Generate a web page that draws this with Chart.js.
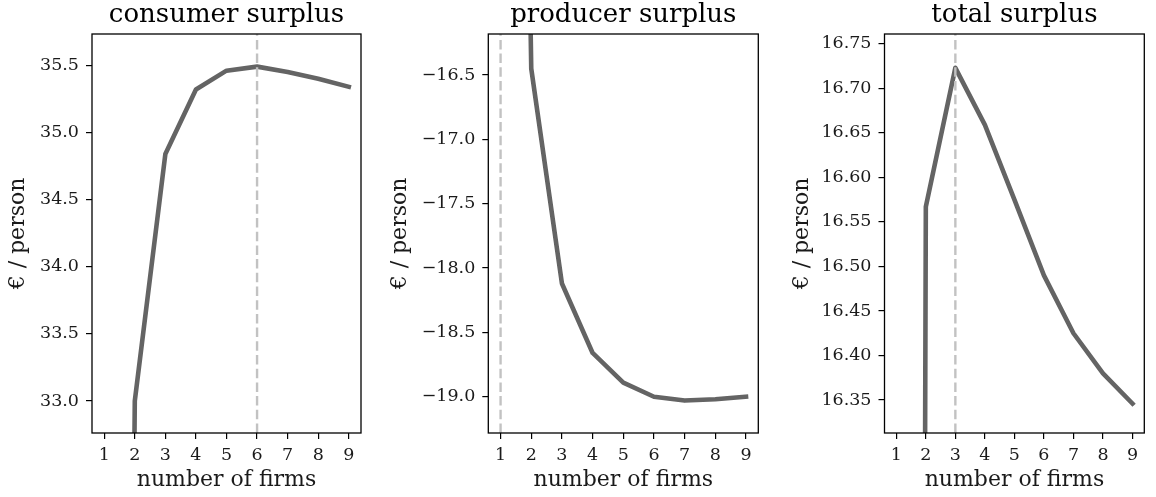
<!DOCTYPE html>
<html>
<head>
<meta charset="utf-8">
<script src="https://cdn.jsdelivr.net/npm/chart.js@4/dist/chart.umd.min.js"></script>
<style>
  html, body { margin: 0; padding: 0; background: #fff; }
  body { width: 1156px; height: 497px; position: relative; overflow: hidden; }
  .panel { position: absolute; top: 0; height: 497px; }
</style>
</head>
<body>
<div class="panel" style="left:0px;width:381px"><canvas id="chartConsumer"></canvas></div>
<div class="panel" style="left:382px;width:400px"><canvas id="chartProducer"></canvas></div>
<div class="panel" style="left:784px;width:372px"><canvas id="chartTotal"></canvas></div>
<script>
// numero de empresas no mercado
const firms = [1, 2, 3, 4, 5, 6, 7, 8, 9];
const xTicks = [1, 2, 3, 4, 5, 6, 7, 8, 9];

// excedentes (euro por pessoa)
const consumerSurplus = [8.0, 33.00, 34.84, 35.32, 35.46, 35.49, 35.45, 35.40, 35.34];
const producerSurplus = [-2.0, -16.45, -18.12, -18.66, -18.89, -19.00, -19.03, -19.02, -19.00];
const totalSurplus = [6.0, 16.567, 16.723, 16.659, 16.575, 16.490, 16.425, 16.380, 16.346];

// limites dos eixos y
const consumerRange = [32.762, 35.733];
const producerRange = [-19.282, -16.181];
const totalRange = [16.313, 16.761];

const serif = 'DejaVu Serif';
const lineColor = '#646464';
const dashColor = '#c2c2c2';

// moldura completa do grafico (estilo matplotlib)
const framePlugin = {
    id: 'frame',
    afterDatasetsDraw(chart) {
        const a = chart.chartArea;
        const ctx = chart.ctx;
        ctx.save();
        ctx.strokeStyle = '#000';
        ctx.lineWidth = 1.3;
        ctx.strokeRect(a.left, a.top, a.right - a.left, a.bottom - a.top);
        ctx.restore();
    }
};

function argmaxX(values) {
    let best = 0;
    values.forEach((v, i) => { if (v > values[best]) best = i; });
    return firms[best];
}

function fmt(decimals) {
    return v => v.toFixed(decimals).replace('-', '\u2212');
}

function makeChart(id, title, values, range, step, decimals, yWidth, padRight) {
    const best = argmaxX(values);
    new Chart(document.getElementById(id), {
        type: 'line',
        data: {
            datasets: [{
                data: firms.map((f, i) => ({ x: f, y: values[i] })),
                borderColor: lineColor,
                borderWidth: 4.6,
                borderJoinStyle: 'round',
                borderCapStyle: 'square',
                pointRadius: 0,
                tension: 0,
                clip: 0,
                order: 2
            }, {
                // linha tracejada no maximo
                data: [{ x: best, y: range[0] }, { x: best, y: range[1] }],
                borderColor: dashColor,
                borderWidth: 2.4,
                borderDash: [9.5, 4.2],
                pointRadius: 0,
                clip: 0,
                order: 1
            }]
        },
        options: {
            responsive: true,
            maintainAspectRatio: false,
            animation: false,
            layout: { padding: { left: 0, right: padRight, top: 0, bottom: 0 } },
            plugins: {
                legend: { display: false },
                tooltip: { enabled: false },
                title: {
                    display: true,
                    text: title,
                    fullSize: false,
                    color: '#000',
                    font: { family: serif, size: 26, weight: 'normal', lineHeight: 1.15 },
                    padding: { top: 0, bottom: 4.1 }
                }
            },
            scales: {
                x: {
                    type: 'linear',
                    min: 0.6,
                    max: 9.4,
                    afterFit: s => { s.height = 64; },
                    afterBuildTicks: s => { s.ticks = xTicks.map(v => ({ value: v })); },
                    grid: { drawOnChartArea: false, drawTicks: true, tickLength: 6, color: '#000', lineWidth: 1.2 },
                    border: { display: false },
                    ticks: {
                        color: '#1a1a1a',
                        padding: 5.5,
                        maxRotation: 0,
                        font: { family: serif, size: 17.5 },
                        callback: v => String(v)
                    },
                    title: {
                        display: true,
                        text: 'number of firms',
                        color: '#1a1a1a',
                        font: { family: serif, size: 22 },
                        padding: { top: 0, bottom: 3.8 }
                    }
                },
                y: {
                    type: 'linear',
                    min: range[0],
                    max: range[1],
                    afterFit: s => { s.width = yWidth; },
                    grid: { drawOnChartArea: false, drawTicks: true, tickLength: 6, color: '#000', lineWidth: 1.2 },
                    border: { display: false },
                    ticks: {
                        stepSize: step,
                        includeBounds: false,
                        color: '#1a1a1a',
                        padding: 7,
                        font: { family: serif, size: 17.5 },
                        callback: fmt(decimals)
                    },
                    title: {
                        display: true,
                        text: '\u20ac / person',
                        color: '#1a1a1a',
                        font: { family: serif, size: 22 },
                        padding: { top: 5.2, bottom: 0 }
                    }
                }
            }
        },
        plugins: [framePlugin]
    });
}

makeChart('chartConsumer', 'consumer surplus', consumerSurplus, consumerRange, 0.5, 1, 92, 20);
makeChart('chartProducer', 'producer surplus', producerSurplus, producerRange, 0.5, 1, 106.3, 23.7);
makeChart('chartTotal', 'total surplus', totalSurplus, totalRange, 0.05, 2, 100.5, 11.7);
</script>
</body>
</html>
